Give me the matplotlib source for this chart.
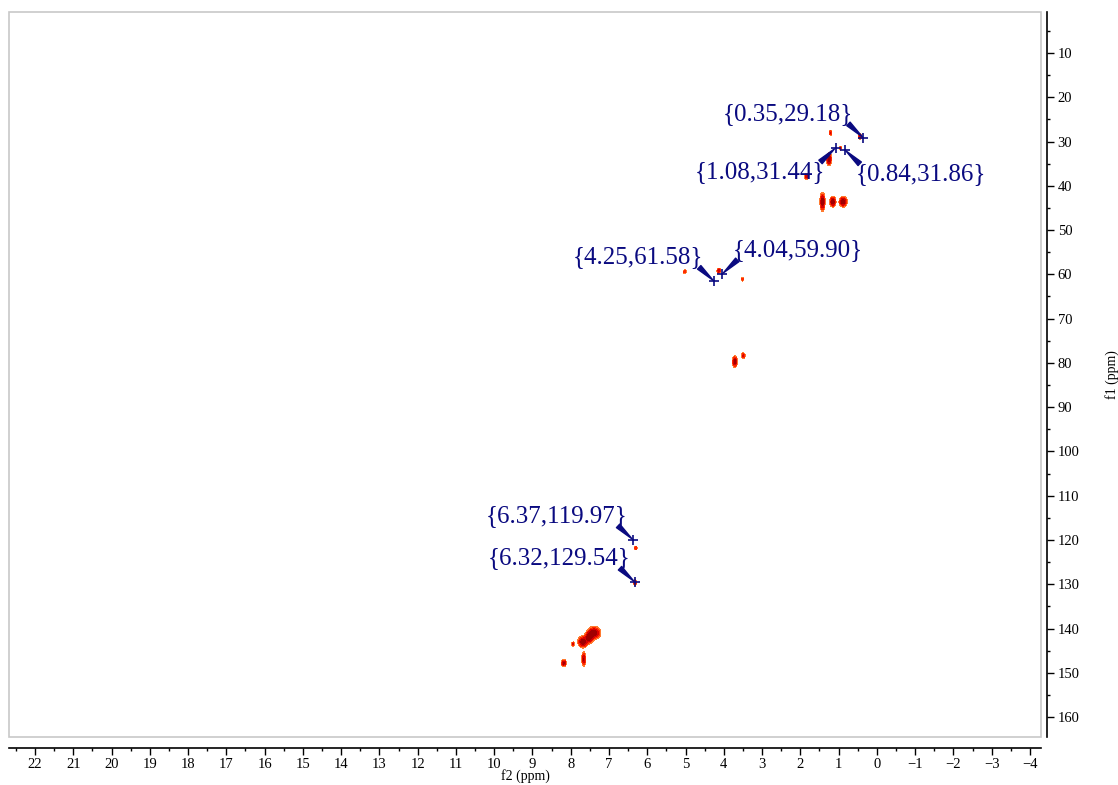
import numpy as np
import matplotlib
matplotlib.use('Agg')
import matplotlib.pyplot as plt
from matplotlib.patches import Rectangle
from matplotlib.ticker import MultipleLocator

# Cross peaks: f2 (ppm), f1 (ppm), half width f2, half width f1, intensity
pk_f2 = [1.21, 0.44, 1.25, 0.95, 1.84, 1.42, 1.15, 0.88,
         5.02, 4.13, 3.51, 3.71, 3.49, 6.30, 6.32,
         7.39, 7.52, 7.68, 7.94, 8.18, 7.66]
pk_f1 = [28.0, 28.9, 34.0, 31.5, 37.9, 43.6, 43.6, 43.6,
         59.4, 59.2, 61.1, 79.7, 78.4, 121.8, 129.6,
         141.0, 142.0, 143.0, 143.5, 147.8, 146.9]
pk_w2 = [0.03, 0.04, 0.05, 0.03, 0.04, 0.05, 0.06, 0.08,
         0.04, 0.04, 0.03, 0.05, 0.04, 0.03, 0.04,
         0.13, 0.08, 0.10, 0.03, 0.05, 0.04]
pk_w1 = [0.5, 0.5, 1.1, 0.4, 0.6, 1.6, 0.9, 0.9,
         0.4, 0.5, 0.4, 1.0, 0.6, 0.4, 0.5,
         1.1, 1.0, 1.0, 0.4, 0.6, 1.3]
pk_amp = [0.6, 0.7, 1.0, 0.5, 0.7, 1.0, 1.0, 1.0,
          0.45, 0.7, 0.45, 0.9, 0.6, 0.5, 0.7,
          1.0, 1.0, 1.0, 0.6, 0.9, 0.8]

# Picked peaks (f2, f1) with label side (+1 right/up, -1 left/down)
lab_f2 = [0.35, 1.08, 0.84, 4.25, 4.04, 6.37, 6.32]
lab_f1 = [29.18, 31.44, 31.86, 61.58, 59.90, 119.97, 129.54]
lab_sx = [-1, -1, 1, -1, 1, -1, -1]
lab_sy = [1, -1, -1, 1, 1, 1, 1]

navy = '#0a0a80'
scale_font = 'Liberation Serif'

fig = plt.figure(figsize=(11.18, 7.85), dpi=100)
ax = fig.add_axes([9 / 1118, 1 - 737 / 785, 1032 / 1118, 725 / 785])

x = np.linspace(-4.3, 22.7, 1400)
y = np.linspace(0.5, 165, 900)
X, Y = np.meshgrid(x, y)
Z = np.zeros_like(X)
for f2, f1, w2, w1, a in zip(pk_f2, pk_f1, pk_w2, pk_w1, pk_amp):
    Z += a * np.exp(-((X - f2) / w2) ** 2 - ((Y - f1) / w1) ** 2)

ax.contourf(X, Y, Z, levels=[0.15, 0.3, 0.5, 0.75, 2],
            colors=['#ff7a30', '#ff2a00', '#d80000', '#a00000'])

for f2, f1, sx, sy in zip(lab_f2, lab_f1, lab_sx, lab_sy):
    ax.plot(f2, f1, '+', color=navy, ms=7, mew=1.2)
    ax.annotate('', xy=(f2, f1), xytext=(15 * sx, 14 * sy),
                textcoords='offset pixels',
                arrowprops=dict(arrowstyle='wedge,tail_width=0.35',
                                color=navy, shrinkA=0, shrinkB=1))
    ax.annotate('{%.2f,%.2f}' % (f2, f1), xy=(f2, f1),
                xytext=(76 * sx, 24 * sy), textcoords='offset pixels',
                ha='center', va='center', fontsize=18,
                family='Liberation Serif', color=navy)

ax.set_xlim(22.68, -4.29)
ax.set_ylim(164.5, 0.74)

# light grey plot frame, black scales drawn outside of it
ax.add_patch(Rectangle((0, 0), 1, 1, transform=ax.transAxes, fill=False,
                       ec='#c8c8c8', lw=1.2, clip_on=False))
for s in ['left', 'top']:
    ax.spines[s].set_visible(False)
ax.spines['bottom'].set_position(('outward', 8))
ax.spines['right'].set_position(('outward', 4))
ax.spines['bottom'].set_linewidth(1.2)
ax.spines['right'].set_linewidth(1.2)

ax.yaxis.tick_right()
ax.yaxis.set_label_position('right')
ax.xaxis.set_major_locator(MultipleLocator(1))
ax.xaxis.set_minor_locator(MultipleLocator(0.5))
ax.yaxis.set_major_locator(MultipleLocator(10))
ax.yaxis.set_minor_locator(MultipleLocator(5))
ax.tick_params(which='major', length=5, width=1, direction='out',
               labelsize=10.5, pad=2)
ax.tick_params(which='minor', length=2.5, width=1, direction='out')
ax.tick_params(axis='y', which='major', pad=3)
for t in ax.get_xticklabels() + ax.get_yticklabels():
    t.set_family(scale_font)

fig.text(525 / 1118, 1 - 776 / 785, 'f2 (ppm)', family=scale_font,
         fontsize=10, ha='center', va='center')
ax.set_ylabel('f1 (ppm)', family=scale_font, fontsize=10,
              rotation=90, labelpad=18)

fig.savefig('out.png', dpi=100)
